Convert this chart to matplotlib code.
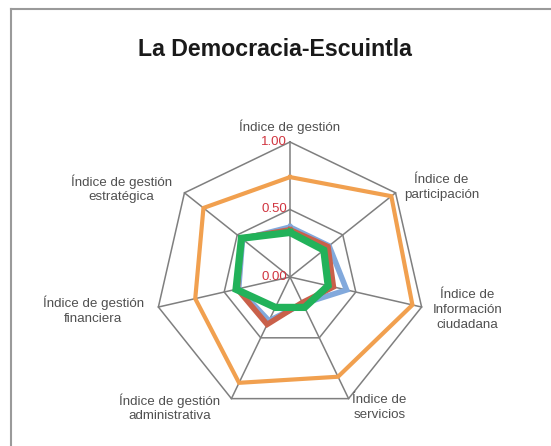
import numpy as np
import matplotlib
matplotlib.use("Agg")
import matplotlib.pyplot as plt
from matplotlib.lines import Line2D

title = "La Democracia-Escuintla"
categories = ["Índice de gestión", "Índice de\nparticipación", "Índice de\nInformación\nciudadana",
              "Índice de\nservicios", "Índice de gestión\nadministrativa", "Índice de gestión\nfinanciera",
              "Índice de gestión\nestratégica"]
serie_azul = [0.37, 0.37, 0.43, 0.22, 0.36, 0.39, 0.45]
serie_roja = [0.35, 0.36, 0.33, 0.21, 0.39, 0.40, 0.46]
serie_naranja = [0.74, 0.96, 0.93, 0.82, 0.87, 0.72, 0.82]
serie_verde = [0.33, 0.32, 0.29, 0.25, 0.25, 0.41, 0.46]
ticks = [0.0, 0.5, 1.0]
tick_labels = ["0.00", "0.50", "1.00"]

plt.rcParams['font.family'] = ['Liberation Sans', 'DejaVu Sans']

W, H = 551, 446
fig = plt.figure(figsize=(W / 100, H / 100), dpi=100)
cx, cy, R = 290, 277, 135
ax = fig.add_axes([(cx - R) / W, (H - cy - R) / H, 2 * R / W, 2 * R / H], projection='polar')
ax.set_theta_zero_location('N')
ax.set_theta_direction(-1)
ax.set_ylim(0, 1)
ax.grid(False)
ax.set_xticks([])
ax.set_yticks([])
ax.spines['polar'].set_visible(False)
ax.patch.set_alpha(0)

n = len(categories)
theta = np.linspace(0, 2 * np.pi, n, endpoint=False)
tc = np.append(theta, theta[0])

grid_c = "#7f7f7f"
for t in ticks[1:]:
    ax.plot(tc, [t] * (n + 1), color=grid_c, lw=1.1, zorder=1, clip_on=False)
for th in theta:
    ax.plot([th, th], [0, 1], color=grid_c, lw=1.1, zorder=1, clip_on=False)

def closed(v):
    return list(v) + [v[0]]

ax.plot(tc, closed(serie_azul), color="#82A9DC", lw=4.0, zorder=3, clip_on=False, solid_joinstyle='miter')
ax.plot(tc, closed(serie_roja), color="#C9604A", lw=4.0, zorder=4, clip_on=False, solid_joinstyle='miter')
ax.plot(tc, closed(serie_naranja), color="#F1A04F", lw=3.0, zorder=5, clip_on=False, solid_joinstyle='miter')
ax.plot(tc, closed(serie_verde), color="#22B25A", lw=5.2, zorder=6, clip_on=False, solid_joinstyle='miter')

for t, lab in zip(ticks, tick_labels):
    ax.annotate(lab, xy=(0, t), xytext=(-3, 0), textcoords='offset pixels',
                ha='right', va='center', fontsize=9.5, color="#D0343F", zorder=7)

offsets = [(0, 15), (46, 5), (46, -3), (31, -9), (-62, -9), (-65, -3), (-63, 4)]
for th, lab, off in zip(theta, categories, offsets):
    ax.annotate(lab, xy=(th, 1.0), xytext=off, textcoords='offset pixels',
                ha='center', va='center', multialignment='center',
                fontsize=9.6, color="#505050", linespacing=1.3)

fig.text(275 / W, 1 - 50 / H, title, ha='center', va='center', fontsize=16.7,
         fontweight='bold', color="#1a1a1a")

fig.add_artist(Line2D([11 / W, 1], [1 - 9 / H, 1 - 9 / H], color="#9a9a9a", lw=1.5))
fig.add_artist(Line2D([11 / W, 11 / W], [0, 1 - 9 / H], color="#9a9a9a", lw=1.5))

fig.savefig("out.png", dpi=100)
